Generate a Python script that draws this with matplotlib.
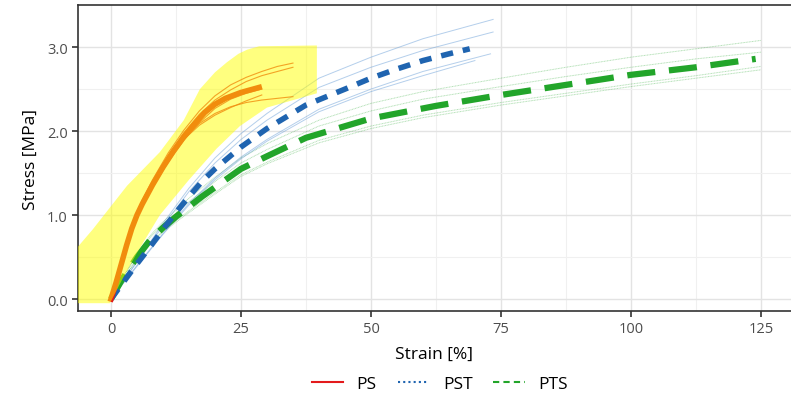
import numpy as np
import matplotlib.pyplot as plt
from matplotlib.lines import Line2D

plt.rcParams['font.family'] = ['Open Sans', 'DejaVu Sans']

# PS (mean + specimens)
ps_x = [0, 1, 2, 3, 4, 5, 6, 8, 10, 12, 14, 16, 18, 20, 22, 25, 28.5]
ps_y = [0, 0.20, 0.42, 0.64, 0.84, 1.00, 1.13, 1.36, 1.57, 1.76, 1.93,
        2.08, 2.22, 2.32, 2.39, 2.46, 2.52]
ps_spec_x = [0, 1, 2, 4, 6, 8, 11, 14, 17, 20, 23, 26, 29, 32, 35]
ps_spec = [
    [0, 0.21, 0.45, 0.88, 1.18, 1.42, 1.74, 2.01, 2.24, 2.42, 2.55, 2.64, 2.71, 2.77, 2.81],
    [0, 0.21, 0.44, 0.87, 1.16, 1.40, 1.71, 1.98, 2.20, 2.37, 2.49, 2.59, 2.66, 2.71, 2.76],
    [0, 0.22, 0.46, 0.88, 1.17, 1.40, 1.69, 1.92, 2.09, 2.21, 2.29, 2.34, 2.37, 2.39, 2.41],
    [0, 0.22, 0.46, 0.89, 1.17, 1.39, 1.68, 1.90, 2.07, 2.19, 2.28, 2.36, 2.43],
    [0, 0.19, 0.40, 0.81, 1.10, 1.33, 1.63, 1.89, 2.10, 2.27, 2.38, 2.45, 2.50],
]

# PST
pst_x = [0, 2, 5, 7.5, 10, 12.5, 15, 17.5, 20, 25, 30, 37.5, 45, 50, 55, 60, 65, 69]
pst_y = [0, 0.17, 0.42, 0.62, 0.83, 1.03, 1.22, 1.40, 1.55, 1.81, 2.03, 2.31,
         2.50, 2.63, 2.74, 2.84, 2.92, 2.98]
pst_spec_x = [
    [0, 2, 5, 10, 15, 20, 25, 30, 40, 50, 60, 73.5],
    [0, 2, 5, 10, 15, 20, 25, 30, 40, 50, 60, 73.5],
    [0, 2, 5, 10, 15, 20, 25, 30, 40, 50, 60, 73],
    [0, 2, 5, 10, 15, 20, 25, 30, 40, 50, 60, 70],
]
pst_spec = [
    [0, 0.18, 0.45, 0.90, 1.32, 1.68, 1.97, 2.21, 2.63, 2.88, 3.10, 3.33],
    [0, 0.18, 0.44, 0.87, 1.28, 1.62, 1.90, 2.13, 2.52, 2.76, 2.96, 3.18],
    [0, 0.16, 0.40, 0.78, 1.14, 1.44, 1.69, 1.90, 2.26, 2.50, 2.71, 2.92],
    [0, 0.16, 0.39, 0.77, 1.12, 1.42, 1.67, 1.88, 2.23, 2.47, 2.66, 2.84],
]

# PTS
pts_x = [0, 2, 5, 7.5, 10, 12.5, 15, 17.5, 20, 25, 30, 37.5, 50, 62.5, 75,
         87.5, 100, 112.5, 124]
pts_y = [0, 0.22, 0.50, 0.70, 0.85, 0.98, 1.10, 1.22, 1.33, 1.55, 1.70,
         1.92, 2.15, 2.30, 2.43, 2.55, 2.67, 2.76, 2.86]
pts_spec_x = [0, 2, 5, 7.5, 10, 15, 20, 25, 30, 40, 50, 60, 75, 87.5, 100, 112.5, 125]
pts_spec = [
    [0, 0.23, 0.53, 0.75, 0.92, 1.20, 1.45, 1.68, 1.85, 2.13, 2.33, 2.47, 2.63, 2.76, 2.88, 2.98, 3.08],
    [0, 0.23, 0.52, 0.73, 0.89, 1.16, 1.40, 1.62, 1.78, 2.06, 2.24, 2.38, 2.53, 2.65, 2.76, 2.86, 2.94],
    [0, 0.21, 0.48, 0.67, 0.81, 1.05, 1.27, 1.48, 1.63, 1.89, 2.06, 2.19, 2.34, 2.45, 2.56, 2.66, 2.77],
    [0, 0.21, 0.47, 0.66, 0.80, 1.03, 1.25, 1.46, 1.61, 1.86, 2.03, 2.16, 2.31, 2.42, 2.53, 2.63, 2.73],
]

# highlighted region around the PS curves
hl_x = [-6.4, -6.4, -3.5, 3.1, 9.4, 14.0, 17.1, 20.0, 22.3, 24.5, 26.2, 28.5,
        39.6, 39.6, 30.0, 24.8, 20.3, 15.0, 9.4, 5.0, 2.3, -0.2]
hl_y = [-0.05, 0.62, 0.83, 1.35, 1.75, 2.13, 2.50, 2.70, 2.82, 2.92, 2.97, 3.01,
        3.02, 2.45, 2.28, 2.06, 1.79, 1.42, 1.00, 0.55, 0.25, -0.05]

red = '#e31a1c'
blue = '#1f64b0'
green = '#22a52a'

fig = plt.figure(figsize=(7.91, 4.10), dpi=100)
ax = fig.add_axes([0.0986, 0.239, 0.9014, 0.746])

ax.set_xlim(-6.35, 130.8)
ax.set_ylim(-0.143, 3.5)
ax.set_xticks([0, 25, 50, 75, 100, 125])
ax.set_xticks([12.5, 37.5, 62.5, 87.5, 112.5], minor=True)
ax.set_yticks([0, 1, 2, 3])
ax.set_yticks([0.5, 1.5, 2.5], minor=True)
ax.set_yticklabels(['0.0', '1.0', '2.0', '3.0'])
ax.grid(True, which='major', color='#e3e3e3', lw=1.0)
ax.grid(True, which='minor', color='#f0f0f0', lw=0.8)
ax.tick_params(which='minor', length=0)
ax.tick_params(which='major', length=4, width=1.2, color='#333333',
               labelcolor='#4d4d4d', labelsize=10.5)
ax.set_axisbelow(True)
for s in ['left', 'bottom', 'top']:
    ax.spines[s].set_color('#333333')
    ax.spines[s].set_linewidth(1.2)
ax.spines['right'].set_visible(False)

# thin specimen curves
for ys in pts_spec:
    ax.plot(pts_spec_x[:len(ys)], ys, color=green, lw=0.7, alpha=0.35, ls=(0, (1, 0.6)))
for xs, ys in zip(pst_spec_x, pst_spec):
    ax.plot(xs, ys, color='#6a9fd8', lw=0.7, alpha=0.5)
for ys in ps_spec:
    ax.plot(ps_spec_x[:len(ys)], ys, color=red, lw=0.8, alpha=0.8)

# mean curves
ax.plot(pts_x, pts_y, color=green, lw=4.5, ls=(0, (4.5, 2.2)))
ax.plot(pst_x, pst_y, color=blue, lw=4, ls=(0, (2.2, 1.8)))
ax.plot(ps_x, ps_y, color=red, lw=4)

# yellow highlight laid over the PS curves
ax.fill(hl_x, hl_y, color='#ffff00', alpha=0.5, lw=0, zorder=5)

ax.set_xlabel('Strain [%]', fontsize=12.5, labelpad=7)
ax.set_ylabel('Stress [MPa]', fontsize=12.5, labelpad=6)

handles = [
    Line2D([], [], color=red, lw=1.5),
    Line2D([], [], color=blue, lw=1.5, ls=(0, (1, 1.5))),
    Line2D([], [], color=green, lw=1.5, ls=(0, (3, 2))),
]
fig.legend(handles, ['PS', 'PST', 'PTS'], loc='center', bbox_to_anchor=(0.556, 0.062),
           ncol=3, frameon=False, fontsize=12.5, handlelength=1.8, columnspacing=1.2,
           handletextpad=0.8)

fig.savefig('out.png', dpi=100)
